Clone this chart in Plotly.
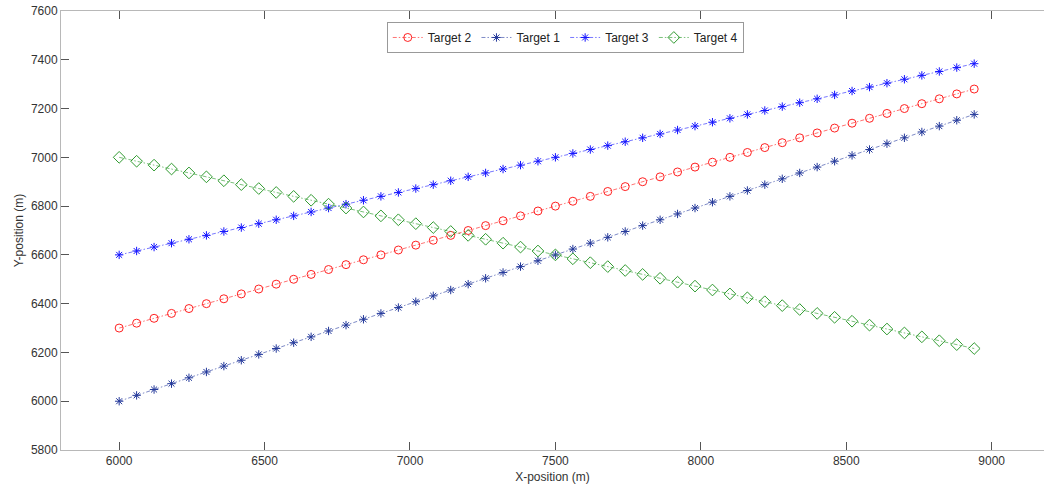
import plotly.graph_objects as go

x_pos = [6000, 6060, 6120, 6180, 6240, 6300, 6360, 6420, 6480, 6540,
         6600, 6660, 6720, 6780, 6840, 6900, 6960, 7020, 7080, 7140,
         7200, 7260, 7320, 7380, 7440, 7500, 7560, 7620, 7680, 7740,
         7800, 7860, 7920, 7980, 8040, 8100, 8160, 8220, 8280, 8340,
         8400, 8460, 8520, 8580, 8640, 8700, 8760, 8820, 8880, 8940]

target2_y = [6300, 6320, 6340, 6360, 6380, 6400, 6420, 6440, 6460, 6480,
             6500, 6520, 6540, 6560, 6580, 6600, 6620, 6640, 6660, 6680,
             6700, 6720, 6740, 6760, 6780, 6800, 6820, 6840, 6860, 6880,
             6900, 6920, 6940, 6960, 6980, 7000, 7020, 7040, 7060, 7080,
             7100, 7120, 7140, 7160, 7180, 7200, 7220, 7240, 7260, 7280]

target1_y = [6000, 6024, 6048, 6072, 6096, 6120, 6144, 6168, 6192, 6216,
             6240, 6264, 6288, 6312, 6336, 6360, 6384, 6408, 6432, 6456,
             6480, 6504, 6528, 6552, 6576, 6600, 6624, 6648, 6672, 6696,
             6720, 6744, 6768, 6792, 6816, 6840, 6864, 6888, 6912, 6936,
             6960, 6984, 7008, 7032, 7056, 7080, 7104, 7128, 7152, 7176]

target3_y = [6600, 6616, 6632, 6648, 6664, 6680, 6696, 6712, 6728, 6744,
             6760, 6776, 6792, 6808, 6824, 6840, 6856, 6872, 6888, 6904,
             6920, 6936, 6952, 6968, 6984, 7000, 7016, 7032, 7048, 7064,
             7080, 7096, 7112, 7128, 7144, 7160, 7176, 7192, 7208, 7224,
             7240, 7256, 7272, 7288, 7304, 7320, 7336, 7352, 7368, 7384]

target4_y = [7000, 6984, 6968, 6952, 6936, 6920, 6904, 6888, 6872, 6856,
             6840, 6824, 6808, 6792, 6776, 6760, 6744, 6728, 6712, 6696,
             6680, 6664, 6648, 6632, 6616, 6600, 6584, 6568, 6552, 6536,
             6520, 6504, 6488, 6472, 6456, 6440, 6424, 6408, 6392, 6376,
             6360, 6344, 6328, 6312, 6296, 6280, 6264, 6248, 6232, 6216]

x_ticks = [6000, 6500, 7000, 7500, 8000, 8500, 9000]
y_ticks = [5800, 6000, 6200, 6400, 6600, 6800, 7000, 7200, 7400, 7600]

series = [
    ("Target 2", target2_y, "#ff2020", "rgba(255,40,40,0.65)", "circle-open", 8),
    ("Target 1", target1_y, "#23389a", "rgba(40,60,160,0.6)", "asterisk-open", 7),
    ("Target 3", target3_y, "#1414ff", "rgba(30,30,255,0.6)", "asterisk-open", 7),
    ("Target 4", target4_y, "#2f9a2f", "rgba(50,160,50,0.65)", "diamond-open", 9),
]

fig = go.Figure()
for name, ys, color, lcolor, sym, size in series:
    fig.add_trace(go.Scatter(
        x=x_pos, y=ys, name=name, mode="lines+markers",
        line=dict(color=lcolor, width=1, dash="4px,2px,1.5px,2px"),
        marker=dict(symbol=sym, size=size, color=color, line=dict(width=1, color=color)),
    ))

font = "Liberation Sans, Arial, sans-serif"
fig.update_layout(
    width=1044, height=488,
    margin=dict(l=61, r=0, t=11, b=38),
    paper_bgcolor="white", plot_bgcolor="white",
    font=dict(family=font, size=12, color="#333333"),
    showlegend=True,
    legend=dict(
        orientation="h", x=0.513, xanchor="center", y=0.975, yanchor="top",
        bordercolor="#999999", borderwidth=1, bgcolor="white",
        font=dict(size=12, color="#222222"),
        itemwidth=30, tracegroupgap=0,
    ),
    xaxis=dict(
        range=[5800, 9180], tickvals=x_ticks, ticks="inside", ticklen=8,
        tickcolor="#555555", showline=True, linecolor="#b8b8b8", linewidth=1,
        mirror="ticks", showgrid=False, zeroline=False,
        title=dict(text="X-position (m)", standoff=5, font=dict(size=12)),
        tickfont=dict(size=12, color="#333333"),
    ),
    yaxis=dict(
        range=[5800, 7600], tickvals=y_ticks, ticks="inside", ticklen=8,
        tickcolor="#555555", showline=True, linecolor="#b8b8b8", linewidth=1,
        mirror=False, showgrid=False, zeroline=False,
        title=dict(text="Y-position (m)", standoff=4, font=dict(size=12)),
        tickfont=dict(size=12, color="#333333"),
    ),
)

fig.write_html("out.html")
